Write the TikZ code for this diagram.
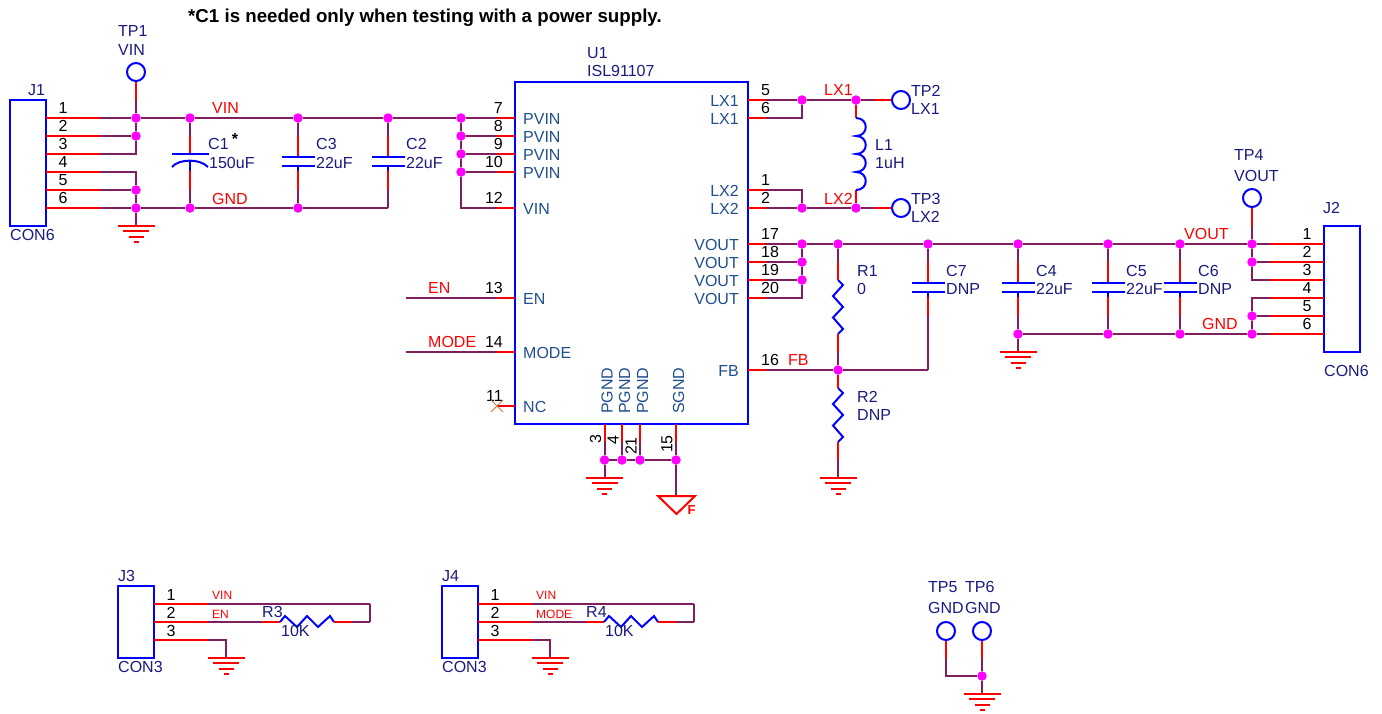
\documentclass[tikz,border=0pt]{standalone}
\usepackage{fontspec}
\setmainfont{Liberation Sans}
\definecolor{wirecol}{HTML}{7F1F5F}
\definecolor{partname}{HTML}{1A1A80}
\definecolor{pincol}{HTML}{1F4E8C}
\definecolor{dotcol}{HTML}{FF00FF}
\tikzset{
  wire/.style={wirecol, line width=2pt},
  pinlead/.style={red, line width=2pt},
  partline/.style={blue, line width=2pt},
  gndbar/.style={red, line width=2pt},
  partbox/.style={draw=blue, line width=2pt, rectangle, inner sep=0pt},
  tpoint/.style={draw=blue, line width=2pt, circle, inner sep=0pt, minimum size=18pt},
  dot/.style={fill=dotcol, circle, inner sep=0pt, minimum size=9.5pt},
  lbl/.style={inner sep=0pt, anchor=west, font=\fontsize{16}{16}\selectfont},
  refname/.style={lbl, text=partname},
  pinname/.style={lbl, text=pincol},
  pinnameR/.style={pinname, anchor=east},
  pinnameV/.style={pinname, rotate=90},
  netname/.style={lbl, text=red},
  netsmall/.style={netname, font=\fontsize{12}{12}\selectfont},
  pinnum/.style={inner sep=0pt, text=black, font=\fontsize{16}{16}\selectfont}
}
\newcommand{\gndsym}[1]% top centre of the symbol
{\draw[gndbar] (#1) ++(-18.5,0) -- ++(37,0) ++(-31.5,5.3) -- ++(26,0) ++(-20.5,5.3) -- ++(15,0) ++(-10,5.3) -- ++(5,0);
}
\newcommand{\capsym}[3]% name, x, y of upper plate
{\coordinate (#1t) at (#2,#3-21);
 \coordinate (#1b) at (#2,#3+33);
 \draw[pinlead] (#1t) -- (#2,#3);
 \draw[pinlead] (#2,#3+14) -- (#1b);
 \draw[partline] (#2-16.5,#3) -- (#2+16.5,#3);
 \draw[partline] (#2-16.5,#3+9) -- (#2+16.5,#3+9);
 \draw[partline] (#2,#3+9) -- (#2,#3+14);
}
\newcommand{\reszigv}[1]% upper end
{\draw[partline] (#1) -- ++(5,5) -- ++(-10,11) -- ++(10,11) -- ++(-10,10.5) -- ++(10,11.5) -- ++(-5,5);
}
\newcommand{\reszigh}[1]% left end
{\draw[partline] (#1) -- ++(5,-6) -- ++(12,11) -- ++(10,-11) -- ++(11,11) -- ++(12,-11) -- ++(4,6);
}
\begin{document}
\begin{tikzpicture}[x=1pt,y=-1pt]
	\useasboundingbox (0,0) rectangle (1382,713);
	\node[inner sep=0pt, anchor=west, font=\fontsize{18.7}{18.7}\selectfont\bfseries] (note) at (188,18) {*C1 is needed only when testing with a power supply.};

	% junctions
	\foreach \name/\x/\y in {a1/136/118,a2/136/136,a3/136/190,a4/136/208,a5/190/118,a6/298/118,a7/388/118,a8/461/118,a9/461/136,a10/461/154,a11/461/172,a12/190/208,a13/298/208,
		b1/802/100,b2/856/100,b3/802/208,b4/856/208,b5/802/244,b6/838/244,b7/928/244,b8/1018/244,b9/1108/244,b10/1180/244,b11/1252/244,b12/802/262,b13/802/280,b14/838/370,
		b15/1252/262,b16/1252/316,b17/1252/334,b18/1018/334,b19/1108/334,b20/1180/334,
		c1/604.5/460,c2/622/460,c3/640/460,c4/676/460,d1/982/676}
		\node[dot] (\name) at (\x,\y) {};

	% J1
	\node[partbox, minimum width=36pt, minimum height=126pt] (J1) at (28,163) {};
	\node[refname] (J1ref) at (28,90) {J1};
	\node[refname] (J1val) at (10,235) {CON6};
	\foreach \n/\y in {1/118,2/136,3/154,4/172,5/190,6/208}{
		\coordinate (j1a\n) at (46,\y);
		\coordinate (j1b\n) at (100,\y);
		\draw[pinlead] (j1a\n) -- (j1b\n);
		\node[pinnum] (j1n\n) at (63,\y-10) {\n};
	}
	\draw[wire] (j1b1) -- (a1);
	\draw[wire] (j1b2) -- (a2);
	\draw[wire] (j1b3) -| (a2);
	\draw[wire] (a1) -- (a2);
	\draw[wire] (j1b4) -| (a3);
	\draw[wire] (j1b5) -- (a3);
	\draw[wire] (j1b6) -- (a4);
	\draw[wire] (a3) -- (a4);

	% TP1
	\node[tpoint] (TP1) at (136,72) {};
	\node[refname] (TP1ref) at (118,31) {TP1};
	\node[refname] (TP1val) at (118,50) {VIN};
	\coordinate (tp1b) at (136,100);
	\draw[pinlead] (TP1) -- (tp1b);
	\draw[wire] (tp1b) -- (a1);

	\coordinate (gnd1) at (136,226);
	\draw[wire] (a4) -- (gnd1);
	\gndsym{gnd1}

	% VIN and GND rails
	\draw[wire] (a1) -- (a5);
	\draw[wire] (a5) -- (a6);
	\draw[wire] (a6) -- (a7);
	\draw[wire] (a7) -- (a8);
	\draw[wire] (a4) -- (a12);
	\draw[wire] (a12) -- (a13);
	\node[netname] (netvin) at (212,108) {VIN};
	\node[netname] (netgnd) at (212,199) {GND};

	% C1, polarised
	\coordinate (c1t) at (190,136);
	\coordinate (c1p) at (190,154);
	\coordinate (c1q) at (190,161);
	\coordinate (c1r) at (190,171);
	\coordinate (c1b) at (190,190);
	\draw[wire] (a5) -- (c1t);
	\draw[pinlead] (c1t) -- (c1p);
	\draw[partline] (172,154) -- (209,154);
	\draw[partline] (172,167) .. controls (179,158.5) and (200,158.5) .. (208,167);
	\draw[partline] (c1q) -- (c1r);
	\draw[pinlead] (c1r) -- (c1b);
	\draw[wire] (c1b) -- (a12);
	\node[refname] (C1ref) at (208,144) {C1};
	\node[inner sep=0pt, font=\fontsize{16}{16}\selectfont\bfseries] (C1star) at (235,139) {*};
	\node[refname] (C1val) at (209,163) {150uF};

	% C3
	\capsym{c3}{298}{157}
	\draw[wire] (a6) -- (c3t);
	\draw[wire] (c3b) -- (a13);
	\node[refname] (C3ref) at (316,144) {C3};
	\node[refname] (C3val) at (316,163) {22uF};

	% C2
	\capsym{c2}{388}{157}
	\coordinate (c2c) at (388,208);
	\draw[wire] (a7) -- (c2t);
	\draw[wire] (c2b) -- (c2c);
	\draw[wire] (a13) -- (c2c);
	\node[refname] (C2ref) at (406,144) {C2};
	\node[refname] (C2val) at (406,163) {22uF};

	% U1
	\node[partbox, minimum width=233pt, minimum height=342pt] (U1) at (631.5,253) {};
	\node[refname] (U1ref) at (587,53) {U1};
	\node[refname] (U1val) at (587,71) {ISL91107};
	\foreach \n/\y in {7/118,8/136,9/154,10/172,12/208,13/298,14/352,11/406}{
		\coordinate (ula\n) at (515,\y);
		\coordinate (ulb\n) at (497,\y);
		\draw[pinlead] (ula\n) -- (ulb\n);
		\node[pinnum, anchor=east] (uln\n) at (503,\y-10) {\n};
	}
	\foreach \n/\y in {5/100,6/118,1/190,2/208,17/244,18/262,19/280,20/298,16/370}{
		\coordinate (ura\n) at (748,\y);
		\coordinate (urb\n) at (766,\y);
		\draw[pinlead] (ura\n) -- (urb\n);
		\node[pinnum, anchor=west] (urn\n) at (761,\y-10) {\n};
	}
	\foreach \n/\x/\yn in {3/604.5/439,4/622/440,21/640/446,15/676/444}{
		\coordinate (uba\n) at (\x,424);
		\coordinate (ubb\n) at (\x,442);
		\draw[pinlead] (uba\n) -- (ubb\n);
		\node[pinnum, rotate=90] (ubn\n) at (\x-9,\yn) {\n};
	}
	\foreach \i/\txt/\y in {a/PVIN/119,b/PVIN/137,c/PVIN/155,d/PVIN/173,e/VIN/209,f/EN/299,g/MODE/353,h/NC/407}
		\node[pinname] (ulp\i) at (523,\y) {\txt};
	\foreach \i/\txt/\y in {a/LX1/101,b/LX1/119,c/LX2/191,d/LX2/209,e/VOUT/245,f/VOUT/263,g/VOUT/281,h/VOUT/299,i/FB/371}
		\node[pinnameR] (urp\i) at (739,\y) {\txt};
	\foreach \i/\txt/\x in {a/PGND/607,b/PGND/624.5,c/PGND/642.5,d/SGND/678.5}
		\node[pinnameV, anchor=west] (ubp\i) at (\x,414) {\txt};

	% left side of U1
	\draw[wire] (a8) -- (ulb7);
	\draw[wire] (a9) -- (ulb8);
	\draw[wire] (a10) -- (ulb9);
	\draw[wire] (a11) -- (ulb10);
	\draw[wire] (a8) -- (a9);
	\draw[wire] (a9) -- (a10);
	\draw[wire] (a10) -- (a11);
	\draw[wire] (a11) |- (ulb12);
	\coordinate (enend) at (406,298);
	\coordinate (modeend) at (406,352);
	\draw[wire] (enend) -- (ulb13);
	\draw[wire] (modeend) -- (ulb14);
	\node[netname] (neten) at (428,288) {EN};
	\node[netname] (netmode) at (428,342) {MODE};
	\draw[brown, line width=1pt] (ulb11) ++(-6,-6) -- ++(12,12) ++(-12,0) -- ++(12,-12);

	% bottom of U1
	\draw[wire] (ubb3) -- (c1);
	\draw[wire] (ubb4) -- (c2);
	\draw[wire] (ubb21) -- (c3);
	\draw[wire] (ubb15) -- (c4);
	\draw[wire] (c1) -- (c2);
	\draw[wire] (c2) -- (c3);
	\draw[wire] (c3) -- (c4);
	\coordinate (gnd2) at (604.5,478);
	\draw[wire] (c1) -- (gnd2);
	\gndsym{gnd2}
	\coordinate (sgnd) at (676,496);
	\draw[wire] (c4) -- (sgnd);
	\draw[gndbar] (658,496) -- (695,496) -- (676.5,514) -- cycle;
	\node[inner sep=0pt, text=red, font=\fontsize{13}{13}\selectfont\bfseries] (sgndF) at (691.5,510) {F};

	% LX nets and L1
	\draw[wire] (urb5) -- (b1);
	\draw[wire] (urb6) -| (b1);
	\draw[wire] (b1) -- (b2);
	\draw[wire] (urb2) -- (b3);
	\draw[wire] (urb1) -| (b3);
	\draw[wire] (b3) -- (b4);
	\node[netname] (netlx1) at (824,90) {LX1};
	\node[netname] (netlx2) at (824,199) {LX2};
	\node[tpoint] (TP2) at (901,100) {};
	\node[tpoint] (TP3) at (901,208) {};
	\coordinate (tp2b) at (874,100);
	\coordinate (tp3b) at (874,208);
	\draw[wire] (b2) -- (tp2b);
	\draw[wire] (b4) -- (tp3b);
	\draw[pinlead] (tp2b) -- (TP2);
	\draw[pinlead] (tp3b) -- (TP3);
	\node[refname] (TP2ref) at (911,91) {TP2};
	\node[refname] (TP2val) at (911,109) {LX1};
	\node[refname] (TP3ref) at (911,199) {TP3};
	\node[refname] (TP3val) at (911,217) {LX2};
	\coordinate (l1t) at (856,118);
	\coordinate (l1b) at (856,190);
	\draw[pinlead] (b2) -- (l1t);
	\draw[pinlead] (l1b) -- (b4);
	\draw[partline] (l1t) .. controls +(13,0) and +(13,0) .. ++(0,18) .. controls +(13,0) and +(13,0) .. ++(0,18) .. controls +(13,0) and +(13,0) .. ++(0,18) .. controls +(13,0) and +(13,0) .. (l1b);
	\node[refname] (L1ref) at (875,145) {L1};
	\node[refname] (L1val) at (875,163) {1uH};

	% VOUT rail
	\draw[wire] (urb17) -- (b5);
	\draw[wire] (urb18) -- (b12);
	\draw[wire] (urb19) -- (b13);
	\draw[wire] (urb20) -| (b13);
	\draw[wire] (b5) -- (b12);
	\draw[wire] (b12) -- (b13);
	\draw[wire] (b5) -- (b6);
	\draw[wire] (b6) -- (b7);
	\draw[wire] (b7) -- (b8);
	\draw[wire] (b8) -- (b9);
	\draw[wire] (b9) -- (b10);
	\draw[wire] (b10) -- (b11);
	\node[netname] (netvout) at (1184,234) {VOUT};
	\node[netname] (netgnd2) at (1202,324) {GND};

	% R1
	\coordinate (r1a) at (838,262);
	\coordinate (r1b) at (838,280);
	\coordinate (r1c) at (838,334);
	\coordinate (r1d) at (838,352);
	\draw[wire] (b6) -- (r1a);
	\draw[pinlead] (r1a) -- (r1b);
	\reszigv{r1b}
	\draw[pinlead] (r1c) -- (r1d);
	\draw[wire] (r1d) -- (b14);
	\node[refname] (R1ref) at (857,271) {R1};
	\node[refname] (R1val) at (857,289) {0};

	% FB and R2
	\draw[wire] (urb16) -- (b14);
	\node[netname] (netfb) at (788,360) {FB};
	\coordinate (r2a) at (838,388);
	\coordinate (r2c) at (838,442);
	\coordinate (r2d) at (838,460);
	\coordinate (gnd3) at (838,478);
	\draw[pinlead] (b14) -- (r2a);
	\reszigv{r2a}
	\draw[pinlead] (r2c) -- (r2d);
	\draw[wire] (r2d) -- (gnd3);
	\gndsym{gnd3}
	\node[refname] (R2ref) at (857,397) {R2};
	\node[refname] (R2val) at (857,415) {DNP};

	% C7
	\capsym{c7}{928}{283}
	\coordinate (c7c) at (928,370);
	\draw[wire] (b7) -- (c7t);
	\draw[wire] (c7b) -- (c7c);
	\draw[wire] (b14) -- (c7c);
	\node[refname] (C7ref) at (946,271) {C7};
	\node[refname] (C7val) at (946,289) {DNP};

	% C4
	\capsym{c4}{1018}{283}
	\draw[wire] (b8) -- (c4t);
	\draw[wire] (c4b) -- (b18);
	\node[refname] (C4ref) at (1036,271) {C4};
	\node[refname] (C4val) at (1036,289) {22uF};
	\coordinate (gnd4) at (1018,352);
	\draw[wire] (b18) -- (gnd4);
	\gndsym{gnd4}

	% C5
	\capsym{c5}{1108}{283}
	\draw[wire] (b9) -- (c5t);
	\draw[wire] (c5b) -- (b19);
	\node[refname] (C5ref) at (1126,271) {C5};
	\node[refname] (C5val) at (1126,289) {22uF};

	% C6
	\capsym{c6}{1180}{283}
	\draw[wire] (b10) -- (c6t);
	\draw[wire] (c6b) -- (b20);
	\node[refname] (C6ref) at (1198,271) {C6};
	\node[refname] (C6val) at (1198,289) {DNP};

	\draw[wire] (b18) -- (b19);
	\draw[wire] (b19) -- (b20);
	\draw[wire] (b20) -- (b17);

	% TP4
	\node[tpoint] (TP4) at (1252,198) {};
	\node[refname] (TP4ref) at (1234,155) {TP4};
	\node[refname] (TP4val) at (1234,176) {VOUT};
	\coordinate (tp4b) at (1252,226);
	\draw[pinlead] (TP4) -- (tp4b);
	\draw[wire] (tp4b) -- (b11);

	% J2
	\node[partbox, minimum width=36pt, minimum height=126pt] (J2) at (1342,289) {};
	\node[refname] (J2ref) at (1323,208) {J2};
	\node[refname] (J2val) at (1324,371) {CON6};
	\foreach \n/\y in {1/244,2/262,3/280,4/298,5/316,6/334}{
		\coordinate (j2a\n) at (1324,\y);
		\coordinate (j2b\n) at (1270,\y);
		\draw[pinlead] (j2a\n) -- (j2b\n);
		\node[pinnum] (j2n\n) at (1307,\y-10) {\n};
	}
	\draw[wire] (b11) -- (j2b1);
	\draw[wire] (b15) -- (j2b2);
	\draw[wire] (b11) -- (b15);
	\draw[wire] (b15) |- (j2b3);
	\draw[wire] (b16) |- (j2b4);
	\draw[wire] (b16) -- (j2b5);
	\draw[wire] (b16) -- (b17);
	\draw[wire] (b17) -- (j2b6);

	% J3 with R3
	\node[partbox, minimum width=36pt, minimum height=72pt] (J3) at (136,622) {};
	\node[refname] (J3ref) at (118,576) {J3};
	\node[refname] (J3val) at (118,667) {CON3};
	\foreach \n/\y in {1/604,2/622,3/640}{
		\coordinate (j3a\n) at (154,\y);
		\coordinate (j3b\n) at (208,\y);
		\draw[pinlead] (j3a\n) -- (j3b\n);
		\node[pinnum] (j3n\n) at (171,\y-9.5) {\n};
	}
	\coordinate (r3a) at (262,622);
	\coordinate (r3b) at (280,622);
	\coordinate (r3c) at (334,622);
	\coordinate (r3d) at (352,622);
	\coordinate (r3e) at (370,622);
	\coordinate (r3f) at (370,604);
	\draw[wire] (j3b2) -- (r3a);
	\draw[pinlead] (r3a) -- (r3b);
	\reszigh{r3b}
	\draw[pinlead] (r3c) -- (r3d);
	\draw[wire] (r3d) -- (r3e);
	\draw[wire] (r3e) -- (r3f);
	\draw[wire] (j3b1) -- (r3f);
	\coordinate (gnd5) at (226,658);
	\draw[wire] (j3b3) -| (gnd5);
	\gndsym{gnd5}
	\node[netsmall] (j3vin) at (212,595) {VIN};
	\node[netsmall] (j3en) at (212,614) {EN};
	\node[refname] (R3ref) at (262,612) {R3};
	\node[refname] (R3val) at (281,631) {10K};

	% J4 with R4
	\node[partbox, minimum width=36pt, minimum height=72pt] (J4) at (460,622) {};
	\node[refname] (J4ref) at (442,576) {J4};
	\node[refname] (J4val) at (442,667) {CON3};
	\foreach \n/\y in {1/604,2/622,3/640}{
		\coordinate (j4a\n) at (478,\y);
		\coordinate (j4b\n) at (532,\y);
		\draw[pinlead] (j4a\n) -- (j4b\n);
		\node[pinnum] (j4n\n) at (495,\y-9.5) {\n};
	}
	\coordinate (r4a) at (586,622);
	\coordinate (r4b) at (604,622);
	\coordinate (r4c) at (658,622);
	\coordinate (r4d) at (676,622);
	\coordinate (r4e) at (694,622);
	\coordinate (r4f) at (694,604);
	\draw[wire] (j4b2) -- (r4a);
	\draw[pinlead] (r4a) -- (r4b);
	\reszigh{r4b}
	\draw[pinlead] (r4c) -- (r4d);
	\draw[wire] (r4d) -- (r4e);
	\draw[wire] (r4e) -- (r4f);
	\draw[wire] (j4b1) -- (r4f);
	\coordinate (gnd6) at (550,658);
	\draw[wire] (j4b3) -| (gnd6);
	\gndsym{gnd6}
	\node[netsmall] (j4vin) at (536,595) {VIN};
	\node[netsmall] (j4mode) at (536,614) {MODE};
	\node[refname] (R4ref) at (586,612) {R4};
	\node[refname] (R4val) at (605,631) {10K};

	% TP5 and TP6
	\node[tpoint] (TP5) at (946,631) {};
	\node[tpoint] (TP6) at (982,631) {};
	\node[refname] (TP5ref) at (928,587) {TP5};
	\node[refname] (TP6ref) at (965,587) {TP6};
	\node[refname] (TP5val) at (928,608) {GND};
	\node[refname] (TP6val) at (965,608) {GND};
	\coordinate (tp5b) at (946,658);
	\coordinate (tp6b) at (982,658);
	\coordinate (gnd7) at (982,694);
	\draw[pinlead] (TP5) -- (tp5b);
	\draw[pinlead] (TP6) -- (tp6b);
	\draw[wire] (tp5b) |- (d1);
	\draw[wire] (tp6b) -- (d1);
	\draw[wire] (d1) -- (gnd7);
	\gndsym{gnd7}
\end{tikzpicture}
\end{document}
